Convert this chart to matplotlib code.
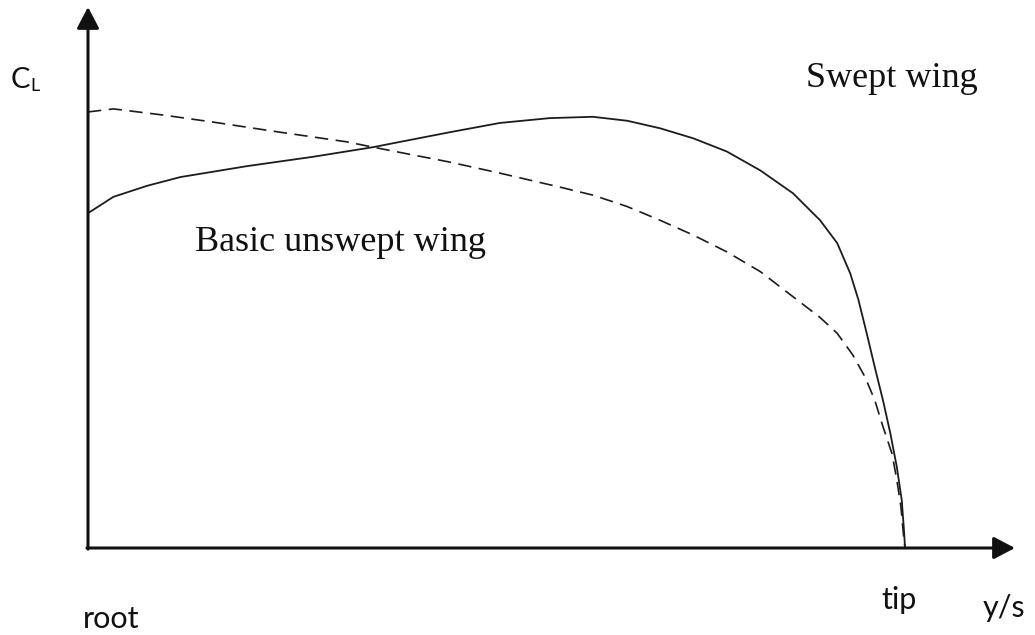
import matplotlib
matplotlib.use("Agg")
import matplotlib.pyplot as plt

# Spanwise position y/s (0 = root, 1 = tip) and lift coefficient (arbitrary units)
swept_x = [0.000, 0.031, 0.072, 0.113, 0.195, 0.275, 0.349, 0.382, 0.443, 0.504,
           0.565, 0.618, 0.660, 0.700, 0.741, 0.782, 0.823, 0.863, 0.896, 0.917,
           0.933, 0.943, 0.953, 0.963, 0.973, 0.982, 0.990, 0.996, 0.999, 1.000]
swept_cl = [0.761, 0.798, 0.823, 0.843, 0.868, 0.889, 0.911, 0.923, 0.945, 0.966,
            0.977, 0.980, 0.971, 0.954, 0.931, 0.901, 0.858, 0.806, 0.745, 0.693,
            0.624, 0.564, 0.489, 0.411, 0.336, 0.261, 0.184, 0.109, 0.034, 0.000]

unswept_x = [0.000, 0.031, 0.092, 0.153, 0.235, 0.317, 0.349, 0.382, 0.443, 0.504,
             0.578, 0.618, 0.660, 0.700, 0.741, 0.782, 0.823, 0.863, 0.896, 0.917,
             0.936, 0.951, 0.963, 0.973, 0.984, 0.990, 0.995, 0.998, 1.000]
unswept_cl = [0.991, 0.998, 0.984, 0.968, 0.945, 0.923, 0.911, 0.899, 0.877, 0.852,
              0.820, 0.802, 0.776, 0.745, 0.711, 0.673, 0.628, 0.571, 0.524, 0.488,
              0.439, 0.389, 0.336, 0.276, 0.215, 0.155, 0.094, 0.033, 0.000]

W, H = 1035, 635
fig = plt.figure(figsize=(W / 100, H / 100), dpi=100)
ax = fig.add_axes([0, 0, 1, 1])
ax.axis("off")
# axis mapping: root at px 88, tip at px 905; CL 0 at py 548, CL 1 at py 108
x0, x1 = 88, 905
y0, y1 = 548, 108
sx = x1 - x0
sy = y0 - y1
ax.set_xlim(-x0 / sx, (W - x0) / sx)
ax.set_ylim(-(H - y0) / sy, y0 / sy)

ink = "#1c1c1c"
ax.plot(swept_x, swept_cl, color=ink, lw=1.3, solid_capstyle="round",
        solid_joinstyle="round")
ax.plot(unswept_x, unswept_cl, color=ink, lw=1.2, linestyle=(0, (8, 4.5)),
        dash_joinstyle="round")

# axes with arrowheads
xt = (1015 - x0) / sx
yt = (y0 - 7) / sy
arrow = dict(arrowstyle="-|>,head_length=13,head_width=6.8", lw=2.2,
             color="#111111", shrinkA=0, shrinkB=0, mutation_scale=1)
ax.annotate("", xy=(xt, 0), xytext=(0 - 1.1 / sx, 0), arrowprops=arrow)
ax.annotate("", xy=(0, yt), xytext=(0, 0 - 1.1 / sy), arrowprops=arrow)

def ftext(px, py, s, **kw):
    fig.text(px / W, 1 - py / H, s, va="baseline", ha="left", **kw)

sans = ["Lato", "DejaVu Sans"]
serif = ["Liberation Serif", "DejaVu Serif"]
ftext(11, 88, "C", family=sans, fontsize=21, color="#111111")
ftext(30, 91, "L", family=sans, fontsize=13, color="#111111")
ftext(83, 628, "root", family=sans, fontsize=22, color="#111111")
ftext(881, 609, "tip", family=sans, fontsize=22, color="#111111")
ftext(983, 617, "y/s", family=sans, fontsize=22, color="#111111")
ftext(806, 87, "Swept wing", family=serif, fontsize=26, color="#111111")
ftext(195, 251, "Basic unswept wing", family=serif, fontsize=26, color="#111111")

fig.savefig("out.png", dpi=100)
